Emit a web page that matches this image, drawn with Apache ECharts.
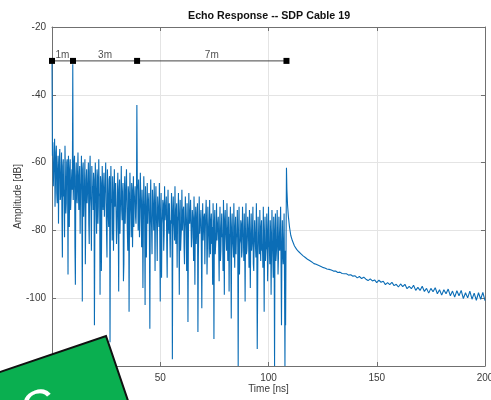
<!DOCTYPE html>
<html>
<head>
    <meta charset="utf-8">
    <title>Echo Response -- SDP Cable 19</title>
    <script src="https://cdn.jsdelivr.net/npm/echarts@6/dist/echarts.min.js"></script>
</head>
<body style="margin:0;background:#fff;">
<div id="container" style="width:491px;height:400px;"></div>
<script type="text/javascript">
    // sampled echo, 0 .. 107.6 ns (even samples)
    var noiseStart = 0;
    var noiseStep = 0.4;
    var noiseAmp = [
        -30, -54, -62, -53, -66, -55, -72, -58, -64, -56,
        -70, -57, -88, -59, -68, -55, -75, -60, -66, -58,
        -79, -59, -70, -62, -31, -66, -58, -96, -60, -72,
        -57, -74, -61, -68, -58, -101, -60, -70, -59, -77,
        -62, -69, -60, -84, -58, -73, -61, -67, -63, -108,
        -60, -72, -62, -78, -59, -70, -64, -92, -61, -74,
        -63, -69, -60, -81, -62, -76, -65, -113, -61, -72,
        -64, -86, -62, -71, -66, -79, -63, -98, -65, -73,
        -61, -77, -66, -90, -64, -72, -62, -80, -67, -104,
        -63, -75, -66, -85, -64, -71, -67, -78, -43, -68,
        -65, -82, -63, -74, -68, -97, -64, -76, -67, -88,
        -66, -73, -69, -109, -65, -79, -68, -75, -66, -92,
        -67, -80, -70, -76, -66, -101, -69, -78, -71, -86,
        -67, -75, -70, -94, -68, -81, -72, -77, -69, -118,
        -70, -79, -67, -84, -72, -76, -69, -99, -71, -82,
        -68, -77, -73, -90, -70, -80, -72, -107, -69, -78,
        -71, -85, -74, -79, -70, -96, -73, -81, -72, -88,
        -70, -78, -74, -103, -72, -83, -75, -80, -71, -93,
        -73, -82, -71, -87, -75, -79, -72, -112, -74, -84,
        -72, -80, -76, -95, -73, -86, -75, -81, -71, -99,
        -74, -83, -72, -89, -76, -82, -73, -106, -75, -85,
        -72, -91, -76, -81, -74, -120, -73, -84, -77, -88,
        -73, -82, -75, -101, -72, -86, -76, -83, -74, -97,
        -75, -84, -73, -92, -77, -85, -72, -115, -76, -83,
        -74, -89, -77, -84, -73, -104, -76, -86, -75, -95,
        -73, -85, -77, -99, -74, -88, -76, -120, -75, -87,
        -74, -93, -76, -86, -73, -108, -77, -90, -75, -120
    ];
    // odd samples, 0.2 .. 107.8 ns
    var noiseAmpOdd = [
        -58, -67, -60, -73, -57, -69, -62, -78, -59, -71,
        -63, -76, -61, -70, -82, -64, -72, -59, -93, -66,
        -62, -74, -65, -68, -71, -60, -85, -64, -70, -63,
        -69, -64, -81, -66, -73, -62, -76, -67, -90, -65,
        -72, -66, -78, -63, -70, -86, -68, -74, -65, -79,
        -67, -81, -64, -73, -69, -99, -66, -75, -70, -68,
        -76, -67, -72, -88, -68, -79, -64, -74, -71, -83,
        -69, -75, -73, -66, -84, -70, -77, -68, -81, -71,
        -74, -69, -95, -70, -78, -67, -73, -86, -69, -76,
        -71, -82, -68, -74, -79, -70, -76, -72, -66, -80,
        -72, -76, -70, -85, -73, -79, -71, -102, -74, -77,
        -78, -71, -83, -74, -76, -87, -72, -80, -75, -73,
        -75, -89, -73, -79, -82, -74, -94, -76, -72, -81,
        -77, -73, -84, -75, -79, -72, -88, -78, -74, -80,
        -76, -83, -78, -74, -91, -77, -81, -75, -86, -79,
        -80, -74, -85, -78, -76, -92, -79, -83, -77, -75,
        -78, -82, -76, -89, -80, -77, -84, -75, -110, -79,
        -81, -77, -86, -79, -83, -76, -90, -80, -78, -85,
        -79, -88, -81, -77, -84, -96, -80, -78, -87, -82,
        -83, -78, -85, -80, -89, -79, -82, -92, -81, -77,
        -80, -86, -79, -84, -98, -81, -87, -79, -83, -88,
        -84, -79, -87, -82, -85, -80, -93, -83, -78, -86,
        -81, -89, -84, -80, -87, -83, -79, -91, -85, -82,
        -86, -80, -90, -83, -81, -88, -84, -97, -82, -87,
        -83, -79, -86, -91, -84, -81, -89, -85, -80, -88,
        -84, -90, -81, -86, -83, -94, -85, -80, -89, -84,
        -82, -88, -85, -81, -91, -84, -87, -83, -95, -86
    ];

    // echo from the cable end
    var peakTime = [107.9, 108.3, 108.5, 108.8, 109.2, 109.7, 110.3, 111.0];
    var peakAmp = [-108, -61.5, -68, -72.5, -76, -79, -81.5, -83];

    // decay tail, 112 .. 200 ns
    var tailStart = 112;
    var tailStep = 1;
    var tailAmp = [
        -84.6, -85.6, -86.3, -86.9, -87.5, -88.0, -88.5, -88.9, -89.3, -89.8,
        -90.0, -90.3, -90.6, -90.9, -91.1, -91.4, -91.5, -91.7, -92.0, -92.0,
        -92.4, -92.3, -92.7, -92.8, -92.8, -93.2, -93.1, -93.5, -93.4, -94.0,
        -93.6, -94.2, -93.8, -94.4, -94.8, -94.3, -94.9, -94.6, -95.4, -94.7,
        -95.3, -95.0, -96.0, -95.4, -96.0, -95.3, -96.3, -95.9, -96.7, -95.8,
        -96.6, -95.9, -97.2, -96.5, -97.2, -96.2, -97.7, -96.8, -97.7, -96.5,
        -98.0, -97.1, -98.5, -97.1, -98.1, -96.9, -98.7, -97.5, -99.1, -97.5,
        -98.7, -97.3, -99.3, -97.9, -99.7, -97.8, -99.3, -97.7, -100.1, -98.4,
        -99.9, -97.9, -100.3, -98.5, -100.6, -98.4, -100.3, -98.3, -100.7
    ];

    // segment markers
    var segmentEdges = [0, 9.7, 39.3, 108.3];
    var segmentLabels = ['1m', '3m', '7m'];
    var markerLevel = -30;

    var xTicks = {min: 0, max: 200, interval: 50};
    var yTicks = {min: -120, max: -20, interval: 20};

    var echo = [];
    for (var i = 0; i < noiseAmp.length; i++) {
        echo.push([noiseStart + i * noiseStep, noiseAmp[i]]);
        echo.push([noiseStart + noiseStep / 2 + i * noiseStep, noiseAmpOdd[i]]);
    }
    for (var j = 0; j < peakTime.length; j++) {
        echo.push([peakTime[j], peakAmp[j]]);
    }
    for (var k = 0; k < tailAmp.length; k++) {
        echo.push([tailStart + k * tailStep, tailAmp[k]]);
    }

    var markerPts = segmentEdges.map(function (t) { return [t, markerLevel]; });
    var labelPts = segmentLabels.map(function (s, n) {
        return {name: s, value: [(segmentEdges[n] + segmentEdges[n + 1]) / 2, markerLevel]};
    });

    var font = 'Liberation Sans';
    var axisCol = '#707070';
    var txtCol = '#3a3a3a';

    function xAx(pos, labels) {
        return {
            type: 'value', position: pos, min: xTicks.min, max: xTicks.max, interval: xTicks.interval,
            axisLine: {show: true, onZero: false, lineStyle: {color: axisCol, width: 1}},
            axisTick: {show: true, inside: true, length: 4, lineStyle: {color: axisCol}},
            axisLabel: {show: labels, color: txtCol, fontSize: 10, fontFamily: font, margin: 7},
            splitLine: {show: labels, lineStyle: {color: '#e4e4e4', width: 1}},
            name: labels ? 'Time [ns]' : '', nameLocation: 'middle', nameGap: 18, nameMoveOverlap: false,
            nameTextStyle: {color: txtCol, fontSize: 10, fontFamily: font}
        };
    }
    function yAx(pos, labels) {
        return {
            type: 'value', position: pos, min: yTicks.min, max: yTicks.max, interval: yTicks.interval,
            axisLine: {show: true, onZero: false, lineStyle: {color: axisCol, width: 1}},
            axisTick: {show: true, inside: true, length: 4, lineStyle: {color: axisCol}},
            axisLabel: {show: labels, color: txtCol, fontSize: 10, fontFamily: font, margin: 6},
            splitLine: {show: labels, lineStyle: {color: '#e4e4e4', width: 1}},
            name: labels ? 'Amplitude [dB]' : '', nameLocation: 'middle', nameGap: 29, nameMoveOverlap: false,
            nameTextStyle: {color: txtCol, fontSize: 10, fontFamily: font}
        };
    }

    var myChart = echarts.init(document.getElementById('container'));
    var option = {
        animation: false,
        backgroundColor: '#fff',
        title: {
            text: 'Echo Response -- SDP Cable 19',
            left: 183, top: 6,
            textStyle: {fontSize: 10.7, fontWeight: 'bold', color: '#111', fontFamily: font}
        },
        grid: {left: 52, right: 6, top: 27, bottom: 34, containLabel: false, outerBoundsMode: 'none'},
        xAxis: [xAx('bottom', true), xAx('top', false)],
        yAxis: [yAx('left', true), yAx('right', false)],
        series: [
            {
                type: 'line', data: echo, showSymbol: false, symbol: 'none', sampling: null,
                lineStyle: {color: '#0b6db6', width: 1.1, join: 'bevel'}, z: 2
            },
            {
                type: 'line', data: markerPts, symbol: 'rect', symbolSize: 6,
                itemStyle: {color: '#000'}, lineStyle: {color: '#444', width: 1}, z: 3
            },
            {
                type: 'scatter', data: labelPts, symbolSize: 0,
                label: {
                    show: true, position: 'top', distance: 1, formatter: '{b}',
                    color: '#222', fontSize: 10, fontFamily: font
                }, z: 4
            }
        ],
        graphic: [
            {
                type: 'polygon', z: 100,
                shape: {points: [[-40, 385.6], [106, 336], [140, 436], [-40, 436]]},
                style: {fill: '#0aaf50', stroke: '#111', lineWidth: 2}
            },
            {
                type: 'text', z: 101, x: 40, y: 410, rotation: 0.32,
                style: {
                    text: 'C', fill: '#fff', fontSize: 48, fontFamily: font,
                    align: 'center', verticalAlign: 'middle'
                }
            }
        ]
    };
    myChart.setOption(option);
</script>
</body>
</html>
